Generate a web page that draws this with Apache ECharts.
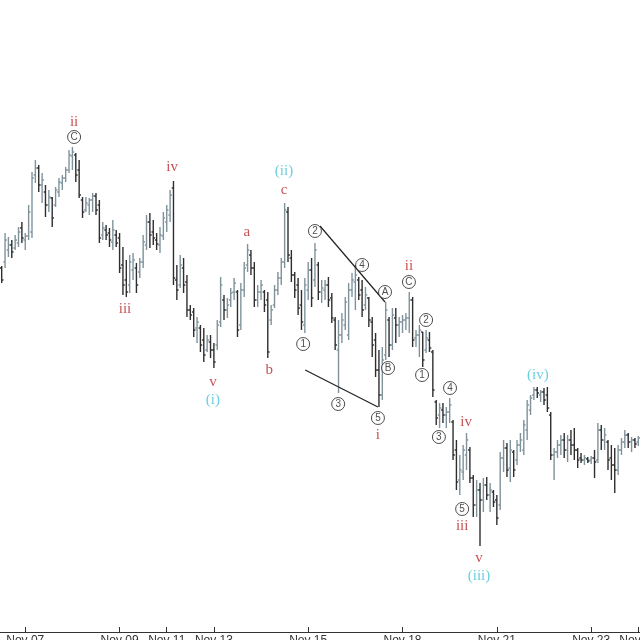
<!DOCTYPE html>
<html><head><meta charset="utf-8">
<script src="https://cdn.jsdelivr.net/npm/echarts@6/dist/echarts.min.js"></script>
<style>html,body{margin:0;padding:0;background:#fff}#c{width:640px;height:640px}</style>
</head><body><div id="c"></div>
<script>
// OHLC bars (bar index 0..189), values in price points
const highs = [374,407,403,400,405,413,418,407,435,468,480,475,467,455,450,443,453,462,465,473,490,493,487,480,443,443,442,447,447,440,418,415,412,420,410,407,393,380,385,387,377,382,405,425,427,420,407,413,428,435,450,459,375,385,382,365,335,332,323,315,312,305,305,297,320,363,345,342,352,362,350,357,378,396,390,378,355,360,350,348,335,355,368,382,437,433,390,368,362,350,362,378,382,397,378,360,360,363,347,323,320,327,343,357,367,375,363,360,353,343,323,307,290,293,338,323,332,332,323,325,327,348,343,310,315,308,310,308,290,240,237,237,233,242,220,200,185,195,207,193,165,160,157,162,163,157,150,145,188,200,197,200,190,200,207,220,240,245,253,253,250,252,253,228,192,200,205,207,205,210,212,192,187,185,183,184,190,217,215,212,200,195,192,195,202,210,207,203,202,204];
const lows = [357,372,383,382,390,393,397,390,400,402,457,448,437,423,428,413,433,443,450,458,467,470,458,442,422,428,425,428,425,397,400,400,393,390,393,367,345,343,347,360,347,362,372,390,392,395,390,387,400,408,418,355,340,352,347,323,320,303,297,288,278,288,282,272,290,313,320,322,333,340,303,310,343,368,365,333,333,340,328,282,315,332,345,355,372,378,358,342,325,310,307,340,333,353,340,337,340,333,317,290,247,297,310,300,343,330,340,323,330,313,283,263,233,240,280,283,290,297,303,307,310,307,293,293,283,273,287,288,243,215,212,217,212,217,180,150,145,160,170,157,123,123,94,128,140,128,133,115,130,168,163,158,163,175,188,185,200,225,240,242,238,235,228,180,160,182,185,182,178,185,180,172,177,175,177,176,162,177,190,190,170,160,147,165,185,192,192,188,192,194];
const opens = [372,378,390,395,392,397,412,400,404,408,465,472,455,448,435,442,435,448,457,462,470,484,485,470,440,430,435,440,444,435,405,410,407,398,405,402,375,360,355,370,372,368,378,395,418,408,400,395,404,418,425,452,360,355,372,358,330,328,312,312,300,290,298,290,295,318,340,330,340,348,348,315,350,375,385,372,340,348,348,340,320,335,350,362,378,428,382,365,355,335,315,350,370,360,375,348,350,355,342,320,290,305,315,305,350,358,360,350,335,342,318,300,270,245,285,320,295,322,315,318,320,322,340,302,305,308,290,300,288,238,225,230,225,228,218,190,160,168,185,190,162,135,150,140,155,145,148,140,135,182,192,172,188,180,195,190,210,230,245,250,245,248,245,225,185,188,195,200,190,200,195,190,182,180,181,180,182,180,210,200,198,182,175,170,190,198,205,198,200,198];
const closes = [360,400,395,388,400,408,402,404,428,462,472,455,460,435,443,422,450,458,462,470,485,488,465,445,428,437,440,444,430,402,412,405,400,410,397,372,355,348,378,380,355,378,398,418,405,402,396,405,422,430,445,362,350,375,355,330,325,310,318,295,285,300,290,278,315,355,330,335,347,357,310,350,372,390,372,340,348,355,335,288,330,350,362,378,430,385,365,350,332,318,355,370,342,390,348,352,355,340,322,295,305,320,338,350,360,365,345,330,345,320,295,270,245,280,330,295,325,315,318,320,322,340,300,305,310,280,302,292,250,222,232,225,228,235,185,158,170,190,200,162,135,150,140,155,145,150,138,122,182,192,170,190,170,195,200,215,235,242,250,247,248,240,232,185,188,195,200,190,200,195,190,180,180,182,179,182,178,210,200,205,180,175,170,190,198,205,198,200,196,202];

// date ticks on the bar index axis
const tickIndex = [7, 35, 49, 63, 91, 119, 147, 175, 189];
const tickLabels = ['Nov 07','Nov 09','Nov 11','Nov 13','Nov 15','Nov 18','Nov 21','Nov 23','Nov 25'];

// wave labels: [text, barIndex, price]
const redLabels = [['ii',21.5,518],['iv',50.6,473],['iii',36.6,331],['v',62.7,258],['a',72.8,408],['b',79.4,270],['c',83.8,450],['ii',120.9,374],['i',111.7,205],['iv',137.9,218],['iii',136.7,114],['v',141.7,82]];
const cyanLabels = [['(i)',62.7,240],['(ii)',83.8,469],['(iii)',141.7,64],['(iv)',159.2,265]];
const circleLabels = [['C',21.5,503],['2',93,409],['1',89.5,296],['4',107,375],['A',113.8,348],['C',120.9,358],['2',126,320],['1',124.8,265],['B',114.7,272],['3',99.9,236],['5',111.7,222],['4',133.1,252],['3',129.8,203],['5',136.7,131]];

// channel lines: [barIndex, price]
const upperLine = [[94.5,414],[113.8,338]];
const lowerLine = [[90.1,270],[111.7,233]];

const UP = '#7f929c', DOWN = '#2e2e2e';
const ohlc = highs.map((h, i) => [i, opens[i], h, lows[i], closes[i]]);

const chart = echarts.init(document.getElementById('c'), null, {renderer: 'canvas'});
const txt = (arr, color, size) => ({
  type: 'scatter', symbol: 'circle', symbolSize: 1, itemStyle: {color: 'rgba(0,0,0,0)'},
  data: arr.map(d => ({value: [d[1], d[2]], name: d[0]})),
  label: {show: true, position: 'inside', formatter: p => p.name, color: color,
    fontFamily: 'Liberation Serif', fontSize: size},
  silent: true, z: 5
});
chart.setOption({
  animation: false,
  backgroundColor: '#ffffff',
  grid: {left: 0, right: 0, top: 0, bottom: 8, containLabel: false, outerBoundsMode: 'none'},
  xAxis: {
    type: 'value', min: -0.5, max: 189.5,
    splitLine: {show: false},
    axisLine: {show: true, onZero: false, lineStyle: {color: '#333', width: 1}},
    axisTick: {show: true, inside: true, length: 5, customValues: tickIndex, lineStyle: {color: '#333'}},
    axisLabel: {show: true, customValues: tickIndex, margin: 3, color: '#333', fontSize: 12,
      hideOverlap: false, showMaxLabel: true,
      fontFamily: 'Liberation Sans', formatter: v => tickLabels[tickIndex.indexOf(v)] || ''}
  },
  yAxis: {type: 'value', min: 8, max: 640, show: false, splitLine: {show: false}},
  series: [
    {
      type: 'custom', data: ohlc, encode: {x: 0, y: [1, 2, 3, 4]}, clip: false,
      renderItem: (params, api) => {
        const x = api.value(0), o = api.value(1), h = api.value(2), l = api.value(3), c = api.value(4);
        const pH = api.coord([x, h]), pL = api.coord([x, l]), pO = api.coord([x, o]), pC = api.coord([x, c]);
        const col = c >= o ? UP : DOWN;
        const st = {stroke: col, lineWidth: 1.4};
        return {type: 'group', children: [
          {type: 'line', shape: {x1: pH[0], y1: pH[1], x2: pL[0], y2: pL[1]}, style: st},
          {type: 'line', shape: {x1: pO[0] - 1.8, y1: pO[1], x2: pO[0], y2: pO[1]}, style: st},
          {type: 'line', shape: {x1: pC[0], y1: pC[1], x2: pC[0] + 1.8, y2: pC[1]}, style: st}
        ]};
      }
    },
    {type: 'line', data: upperLine, symbol: 'none', lineStyle: {color: '#222', width: 1.2}, z: 4, silent: true},
    {type: 'line', data: lowerLine, symbol: 'none', lineStyle: {color: '#222', width: 1.2}, z: 4, silent: true},
    txt(redLabels, '#b8262a', 15),
    txt(cyanLabels, '#45c3d8', 15),
    {
      type: 'scatter', symbol: 'circle', symbolSize: 13,
      itemStyle: {color: '#ffffff', borderColor: '#222', borderWidth: 1},
      data: circleLabels.map(d => ({value: [d[1], d[2]], name: d[0]})),
      label: {show: true, position: 'inside', formatter: p => p.name, color: '#222',
        fontFamily: 'Liberation Sans', fontSize: 10},
      silent: true, z: 6
    }
  ]
});
</script></body></html>
